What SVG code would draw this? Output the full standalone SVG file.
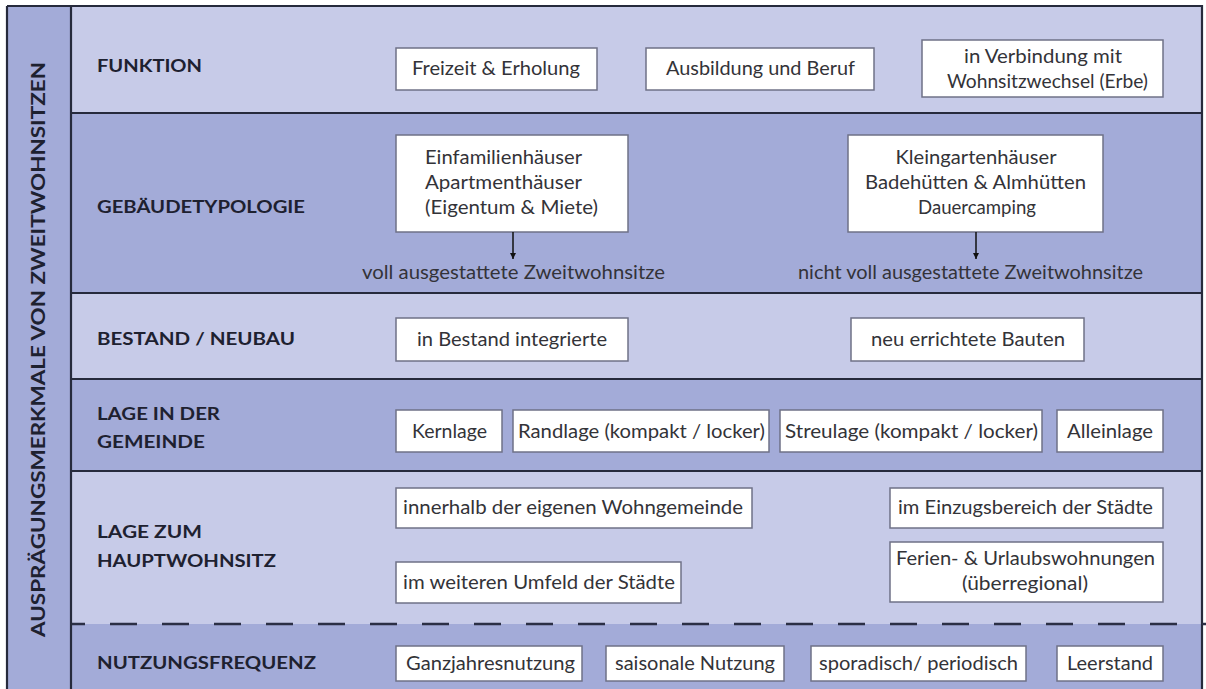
<svg xmlns="http://www.w3.org/2000/svg" width="1206" height="689" viewBox="0 0 1206 689">
<defs>
<style>
.light{fill:#c7cbe8}
.dark{fill:#a3abd8}
.sep{stroke:#262a3c;stroke-width:2.2;fill:none}
.box{fill:#ffffff;stroke:#6f7287;stroke-width:1.5}
.lbl{font-family:Lato,"Open Sans","Liberation Sans",sans-serif;font-weight:bold;font-size:16.5px;fill:#1e2130}
.t{font-family:Lato,"Open Sans","Liberation Sans",sans-serif;font-size:19.5px;fill:#333338}
.vt{font-family:Lato,"Open Sans","Liberation Sans",sans-serif;font-weight:bold;font-size:19px;fill:#1e2130}
.conn{stroke:#111;stroke-width:1.5;fill:none}
</style>
<marker id="arr" viewBox="0 0 10 10" refX="10" refY="5" markerWidth="6" markerHeight="6" markerUnits="userSpaceOnUse" orient="auto">
<path d="M0,0 L10,5 L0,10 z" fill="#111"/>
</marker>
</defs>
<rect x="0" y="0" width="1206" height="689" fill="#ffffff"/>
<g id="background">
<rect x="7" y="6" width="64" height="690" class="dark"/>
<rect x="71" y="6" width="1131" height="107" class="light"/>
<rect x="71" y="113" width="1131" height="180" class="dark"/>
<rect x="71" y="293" width="1131" height="86" class="light"/>
<rect x="71" y="379" width="1131" height="92" class="dark"/>
<rect x="71" y="471" width="1131" height="153" class="light"/>
<rect x="71" y="624" width="1131" height="70" class="dark"/>
<path class="sep" d="M7,6 H1202 V700 M7,6 V700 M71,6 V700"/>
<path class="sep" d="M71,113 H1202 M71,293 H1202 M71,379 H1202 M71,471 H1202"/>
<line x1="72" y1="624" x2="1206" y2="624" stroke="#2b2f45" stroke-width="2.5" stroke-dasharray="27 25" stroke-dashoffset="14"/>
<text class="vt" transform="translate(45,637) rotate(-90)" x="0" y="0" textLength="575" lengthAdjust="spacingAndGlyphs">AUSPRÄGUNGSMERKMALE VON ZWEITWOHNSITZEN</text>
</g>
<g id="labels">
<text class="lbl" x="97" y="72" textLength="105" lengthAdjust="spacingAndGlyphs">FUNKTION</text>
<text class="lbl" x="97" y="213" textLength="208" lengthAdjust="spacingAndGlyphs">GEBÄUDETYPOLOGIE</text>
<text class="lbl" x="97" y="345" textLength="198" lengthAdjust="spacingAndGlyphs">BESTAND / NEUBAU</text>
<text class="lbl" x="97" y="420" textLength="123" lengthAdjust="spacingAndGlyphs">LAGE IN DER</text>
<text class="lbl" x="97" y="448" textLength="108" lengthAdjust="spacingAndGlyphs">GEMEINDE</text>
<text class="lbl" x="97" y="538" textLength="105" lengthAdjust="spacingAndGlyphs">LAGE ZUM</text>
<text class="lbl" x="97" y="567" textLength="179" lengthAdjust="spacingAndGlyphs">HAUPTWOHNSITZ</text>
<text class="lbl" x="97" y="669" textLength="219" lengthAdjust="spacingAndGlyphs">NUTZUNGSFREQUENZ</text>
</g>
<g id="n-freizeit"><rect class="box" x="396" y="48" width="201" height="42"/><text class="t" x="412" y="75" textLength="168" lengthAdjust="spacingAndGlyphs">Freizeit &amp; Erholung</text></g>
<g id="n-ausbildung"><rect class="box" x="646" y="48" width="228" height="42"/><text class="t" x="666" y="75" textLength="189" lengthAdjust="spacingAndGlyphs">Ausbildung und Beruf</text></g>
<g id="n-wohnsitzwechsel"><rect class="box" x="922" y="40" width="241" height="57"/><text class="t" x="964" y="62.5" textLength="158" lengthAdjust="spacingAndGlyphs">in Verbindung mit</text><text class="t" x="947" y="87.5" textLength="201" lengthAdjust="spacingAndGlyphs">Wohnsitzwechsel (Erbe)</text></g>
<g id="n-einfamilien"><rect class="box" x="396" y="135" width="232" height="97"/><text class="t" x="425" y="163.5" textLength="157" lengthAdjust="spacingAndGlyphs">Einfamilienhäuser</text><text class="t" x="425" y="188.5" textLength="157" lengthAdjust="spacingAndGlyphs">Apartmenthäuser</text><text class="t" x="425" y="213.5" textLength="173" lengthAdjust="spacingAndGlyphs">(Eigentum &amp; Miete)</text></g>
<g id="n-voll"><text class="t" x="362" y="278.5" textLength="303" lengthAdjust="spacingAndGlyphs">voll ausgestattete Zweitwohnsitze</text></g>
<g id="n-kleingarten"><rect class="box" x="848" y="135" width="255" height="97"/><text class="t" x="895.5" y="163.5" textLength="161" lengthAdjust="spacingAndGlyphs">Kleingartenhäuser</text><text class="t" x="865" y="188.5" textLength="221" lengthAdjust="spacingAndGlyphs">Badehütten &amp; Almhütten</text><text class="t" x="918" y="213.5" textLength="118" lengthAdjust="spacingAndGlyphs">Dauercamping</text></g>
<g id="n-nichtvoll"><text class="t" x="798" y="278.5" textLength="345" lengthAdjust="spacingAndGlyphs">nicht voll ausgestattete Zweitwohnsitze</text></g>
<g id="n-bestand"><rect class="box" x="396" y="318" width="232" height="43"/><text class="t" x="417" y="345.5" textLength="190" lengthAdjust="spacingAndGlyphs">in Bestand integrierte</text></g>
<g id="n-neu"><rect class="box" x="851" y="318" width="233" height="43"/><text class="t" x="871" y="345.5" textLength="194" lengthAdjust="spacingAndGlyphs">neu errichtete Bauten</text></g>
<g id="n-kernlage"><rect class="box" x="396" y="410" width="106" height="42"/><text class="t" x="412" y="437.5" textLength="75" lengthAdjust="spacingAndGlyphs">Kernlage</text></g>
<g id="n-randlage"><rect class="box" x="513" y="410" width="256" height="42"/><text class="t" x="518" y="437.5" textLength="247" lengthAdjust="spacingAndGlyphs">Randlage (kompakt / locker)</text></g>
<g id="n-streulage"><rect class="box" x="780" y="410" width="262" height="42"/><text class="t" x="785" y="437.5" textLength="253" lengthAdjust="spacingAndGlyphs">Streulage (kompakt / locker)</text></g>
<g id="n-alleinlage"><rect class="box" x="1057" y="410" width="106" height="42"/><text class="t" x="1067" y="437.5" textLength="86" lengthAdjust="spacingAndGlyphs">Alleinlage</text></g>
<g id="n-innerhalb"><rect class="box" x="396" y="488" width="356" height="40"/><text class="t" x="403" y="514" textLength="340" lengthAdjust="spacingAndGlyphs">innerhalb der eigenen Wohngemeinde</text></g>
<g id="n-umfeld"><rect class="box" x="396" y="562" width="285" height="41"/><text class="t" x="403" y="588.5" textLength="272" lengthAdjust="spacingAndGlyphs">im weiteren Umfeld der Städte</text></g>
<g id="n-einzugsbereich"><rect class="box" x="890" y="488" width="273" height="40"/><text class="t" x="898" y="514" textLength="255" lengthAdjust="spacingAndGlyphs">im Einzugsbereich der Städte</text></g>
<g id="n-ferien"><rect class="box" x="890" y="542" width="273" height="60"/><text class="t" x="896" y="564.5" textLength="259" lengthAdjust="spacingAndGlyphs">Ferien- &amp; Urlaubswohnungen</text><text class="t" x="962" y="589.5" textLength="126" lengthAdjust="spacingAndGlyphs">(überregional)</text></g>
<g id="n-ganzjahr"><rect class="box" x="396" y="646" width="186" height="35"/><text class="t" x="406" y="669.5" textLength="169" lengthAdjust="spacingAndGlyphs">Ganzjahresnutzung</text></g>
<g id="n-saisonal"><rect class="box" x="606" y="646" width="178" height="35"/><text class="t" x="615" y="669.5" textLength="160" lengthAdjust="spacingAndGlyphs">saisonale Nutzung</text></g>
<g id="n-sporadisch"><rect class="box" x="811" y="646" width="215" height="35"/><text class="t" x="819" y="669.5" textLength="199" lengthAdjust="spacingAndGlyphs">sporadisch/ periodisch</text></g>
<g id="n-leerstand"><rect class="box" x="1057" y="646" width="106" height="35"/><text class="t" x="1067" y="669.5" textLength="86" lengthAdjust="spacingAndGlyphs">Leerstand</text></g>
<g id="connectors">
<line class="conn" x1="513" y1="232" x2="513" y2="259" marker-end="url(#arr)"/>
<line class="conn" x1="976" y1="232" x2="976" y2="259" marker-end="url(#arr)"/>
</g>
</svg>
